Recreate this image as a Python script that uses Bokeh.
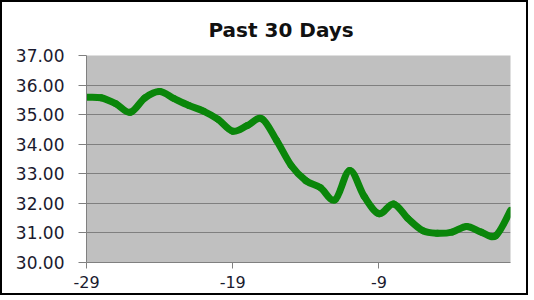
from bokeh.plotting import figure
from bokeh.embed import file_html
from bokeh.resources import INLINE
from bokeh.models import FixedTicker, NumeralTickFormatter, Range1d

days = list(range(-29, 1))
values = [35.59, 35.57, 35.37, 35.08, 35.57, 35.78, 35.54, 35.31, 35.12, 34.84,
          34.44, 34.63, 34.86, 34.13, 33.28, 32.77, 32.53, 32.12, 33.11, 32.23,
          31.65, 31.98, 31.48, 31.08, 30.99, 31.03, 31.22, 31.03, 30.91, 31.76]
y_ticks = [30, 31, 32, 33, 34, 35, 36, 37]
x_ticks = [-29, -19, -9]
x_tick_labels = ["-29", "-19", "-9"]
title_text = "Past 30 Days"

# smooth (Catmull-Rom style) bezier segments derived from the data points
n = len(days)
x0s, y0s, x1s, y1s, cx0s, cy0s, cx1s, cy1s = [], [], [], [], [], [], [], []
for i in range(n - 1):
    xa, ya = (days[i - 1], values[i - 1]) if i > 0 else (days[i], values[i])
    xb, yb = days[i], values[i]
    xc, yc = days[i + 1], values[i + 1]
    xd, yd = (days[i + 2], values[i + 2]) if i + 2 < n else (xc, yc)
    x0s.append(xb); y0s.append(yb); x1s.append(xc); y1s.append(yc)
    cx0s.append(xb + (xc - xa) / 6); cy0s.append(yb + (yc - ya) / 6)
    cx1s.append(xc - (xd - xb) / 6); cy1s.append(yc - (yd - yb) / 6)

p = figure(width=528, height=295, output_backend="svg", toolbar_location=None,
           x_range=Range1d(-29, 0), y_range=Range1d(30, 37),
           min_border_left=84, min_border_right=20, min_border_top=53, min_border_bottom=35)
p.styles = {"border": "2px solid #000000"}

p.border_fill_color = "white"
p.outline_line_color = None
p.background_fill_color = "#c0c0c0"

p.title.text = title_text
p.title.text_font = "DejaVu Sans"
p.title.text_font_size = "20px"
p.title.text_font_style = "bold"
p.title.align = "left"
p.title.offset = 122
p.title.standoff = 27
p.title.text_color = "#111111"

p.bezier(x0=x0s, y0=y0s, x1=x1s, y1=y1s, cx0=cx0s, cy0=cy0s, cx1=cx1s, cy1=cy1s,
         line_color="#0a860a", line_width=7, line_cap="round")

p.xgrid.visible = False
p.ygrid.ticker = FixedTicker(ticks=y_ticks)
p.ygrid.grid_line_color = "#7f7f7f"
p.ygrid.grid_line_width = 1

p.yaxis.ticker = FixedTicker(ticks=y_ticks)
p.yaxis.formatter = NumeralTickFormatter(format="0.00")
p.yaxis.major_tick_out = 8
p.yaxis.major_tick_in = 0
p.yaxis.minor_tick_out = 0
p.yaxis.minor_tick_in = 0
p.yaxis.major_label_standoff = 14

p.xaxis.ticker = FixedTicker(ticks=x_ticks)
p.xaxis.major_label_overrides = dict(zip(x_ticks, x_tick_labels))
p.xaxis.major_tick_out = 6
p.xaxis.major_tick_in = 0
p.xaxis.minor_tick_out = 0
p.xaxis.minor_tick_in = 0
p.xaxis.major_label_standoff = 7

for ax in (p.xaxis[0], p.yaxis[0]):
    ax.axis_line_color = "#808080"
    ax.major_tick_line_color = "#808080"
    ax.major_label_text_font = "DejaVu Sans"
    ax.major_label_text_color = "#1a1a2e"
p.yaxis.major_label_text_font_size = "17px"
p.xaxis.major_label_text_font_size = "16px"

open("out.html", "w").write(file_html(p, INLINE))
